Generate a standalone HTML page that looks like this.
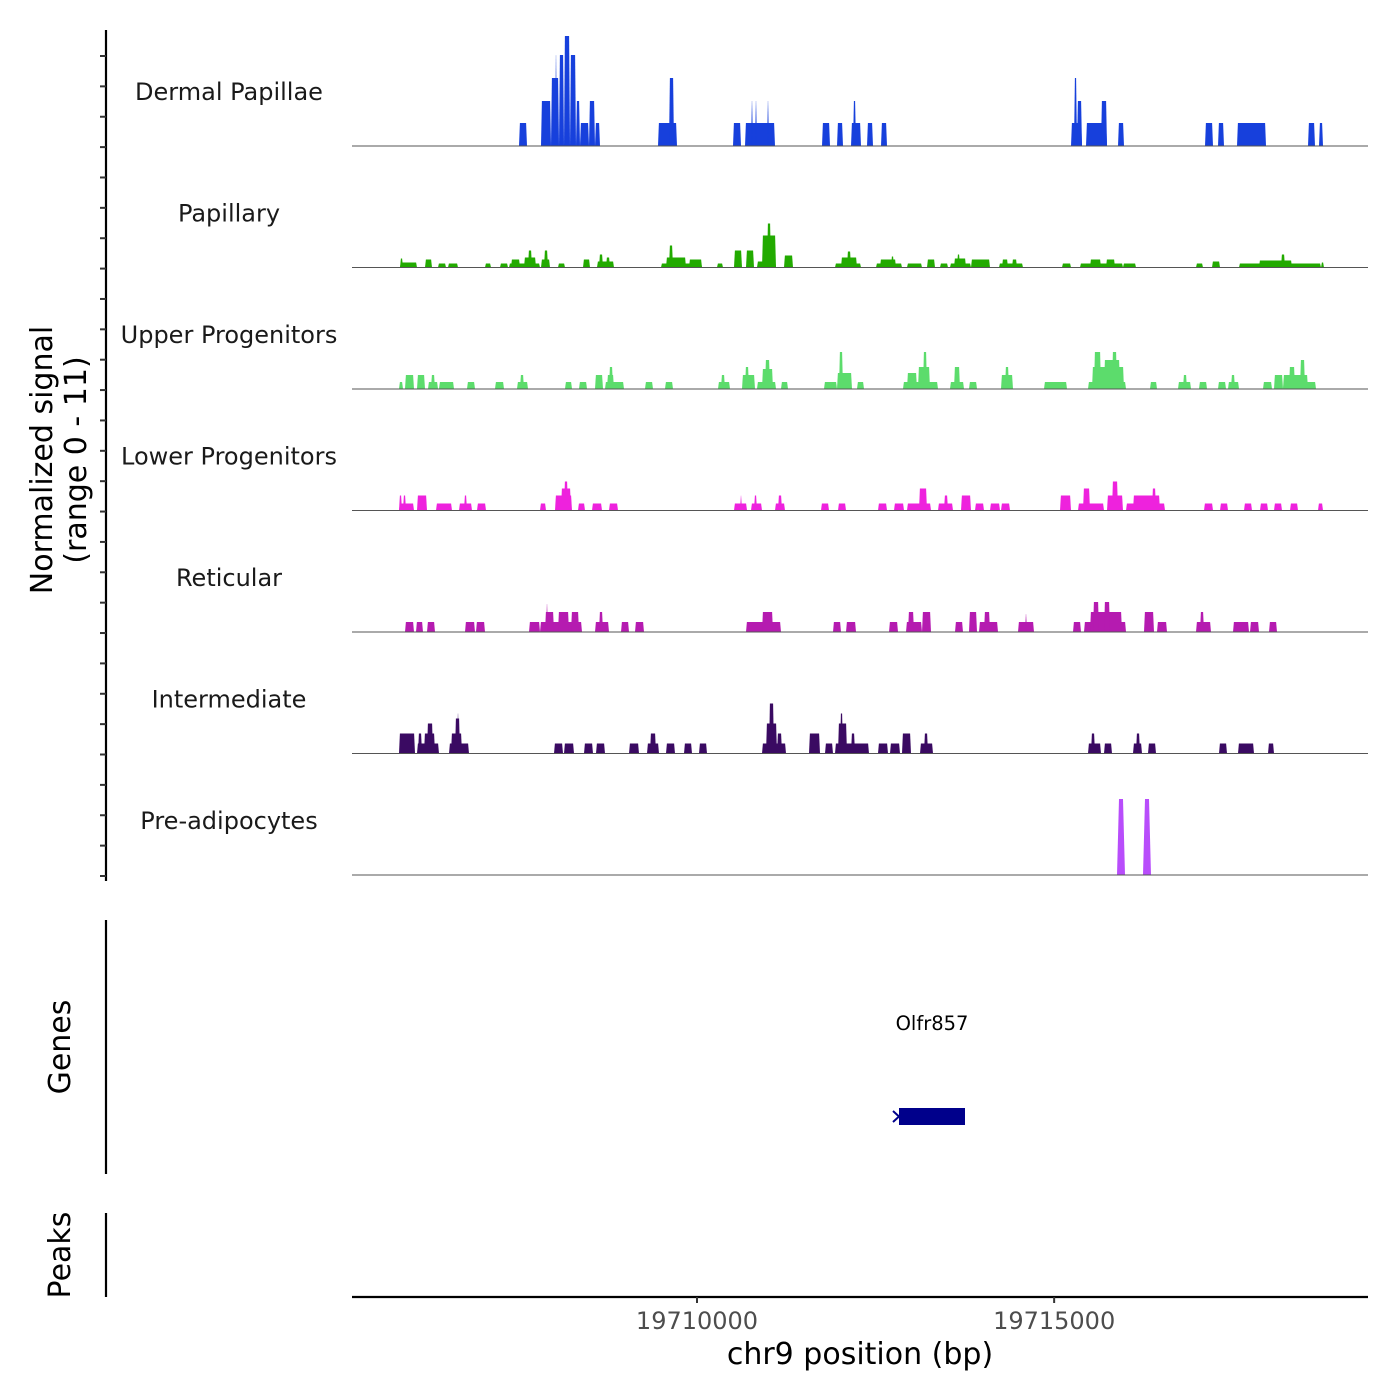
<!DOCTYPE html>
<html><head><meta charset="utf-8">
<style>
html,body{margin:0;padding:0;background:#fff;}
svg{display:block;font-family:"DejaVu Sans","Liberation Sans",sans-serif;}
</style></head>
<body>
<svg id="chart" width="1400" height="1400" viewBox="0 0 1400 1400" xmlns="http://www.w3.org/2000/svg">
<g id="tracks"></g>
<g id="axes"></g>
</svg>
<script>
// ---- data ----
const regionStart = 19705170;
const regionEnd = 19719394;
const signalMax = 11;
const trackNames = ["Dermal Papillae","Papillary","Upper Progenitors","Lower Progenitors","Reticular","Intermediate","Pre-adipocytes"];
const trackColors = ["#1740dc","#22aa00","#5cdc6c","#ee22dd","#b51bb0","#3a0a62","#b84dfb"];
const xTicks = [19710000, 19715000];
const xTickLabels = ["19710000","19715000"];
const geneName = "Olfr857";
const geneStartOffset = 7658;
const geneEndOffset = 8582;
// segments: [startOffsetBp, endOffsetBp, signal]
const dermalPapillae = [
[2338,2450,2.3],[2646,2786,4.5],[2786,2898,6.8],[2842,2870,9.1],[2898,2968,9.1],[2968,3052,11],[3052,3136,9.1],[3136,3192,4.5],
[3192,3318,2.3],[3318,3402,4.5],[3402,3472,2.3],[4284,4550,2.3],[4438,4508,6.8],[5334,5446,2.3],[5502,5922,2.3],[5586,5614,4.5],
[5642,5670,4.5],[5810,5838,4.5],[6580,6692,2.3],[6790,6874,2.3],[6986,7126,2.3],[7014,7056,4.5],[7210,7294,2.3],[7406,7490,2.3],
[10066,10220,2.3],[10108,10150,6.8],[10150,10220,4.5],[10276,10570,2.3],[10486,10570,4.5],[10724,10808,2.3],
[11942,12054,2.3],[12124,12208,2.3],[12390,12796,2.3],[13384,13482,2.3],[13538,13594,2.3]];
const papillary = [
[672,910,0.5],[672,714,0.9],[1022,1120,0.8],[1204,1316,0.4],[1344,1484,0.4],[1862,1946,0.4],[2072,2184,0.4],[2198,2632,0.4],
[2226,2352,0.8],[2408,2576,1.0],[2464,2520,1.7],[2646,2772,0.8],[2688,2744,1.7],[2884,2982,0.4],[3234,3332,0.8],[3430,3668,0.6],
[3458,3514,1.3],[3556,3612,1.0],[4326,4900,0.4],[4396,4676,1.0],[4438,4494,2.2],[4718,4900,0.8],[5110,5194,0.4],[5348,5460,1.7],
[5516,5628,1.7],[5670,5936,0.6],[5740,5936,3.2],[5810,5866,4.4],[6048,6174,1.2],[6762,7126,0.4],[6846,7070,1.0],[6930,6986,1.6],
[7336,7700,0.4],[7392,7616,0.8],[7546,7588,1.1],[7770,7980,0.4],[8050,8162,0.8],[8232,8344,0.4],[8372,8666,0.4],[8428,8596,0.9],
[8470,8512,1.3],[8666,8932,0.8],[9058,9394,0.4],[9100,9184,0.8],[9240,9310,0.8],[9940,10066,0.4],[10192,10794,0.4],[10332,10486,0.8],
[10556,10682,0.8],[10794,10976,0.4],[11816,11914,0.4],[12040,12152,0.6],[12418,13566,0.4],[12698,13160,0.7],[13006,13062,1.3],[13566,13608,0.5]];
const upperProgenitors = [
[658,714,0.7],[742,868,1.4],[910,1022,1.4],[1064,1204,0.7],[1106,1162,1.4],[1218,1428,0.7],[1610,1722,0.7],[2002,2128,0.7],
[2310,2464,0.7],[2352,2408,1.4],[2982,3080,0.7],[3178,3290,0.7],[3402,3514,1.4],[3542,3808,0.7],[3570,3668,1.4],[3598,3654,2.2],
[4102,4214,0.7],[4382,4494,0.7],[5124,5292,0.7],[5166,5222,1.4],[5460,5642,1.4],[5502,5558,2.2],[5670,5936,0.7],[5740,5894,2.0],
[5782,5852,2.9],[6006,6104,0.7],[6608,6790,0.7],[6790,7000,1.6],[6818,6874,3.7],[7070,7168,0.7],[7714,8204,0.7],[7770,7910,1.6],
[7924,8092,2.2],[7994,8050,3.7],[8372,8568,0.7],[8428,8512,2.2],[8638,8750,0.7],[9086,9254,1.4],[9142,9198,2.2],[9688,10010,0.7],
[10304,10836,0.7],[10360,10808,2.2],[10388,10486,3.7],[10528,10752,2.9],[10640,10710,3.7],[11172,11270,0.7],[11564,11746,0.7],
[11634,11690,1.4],[11858,11970,0.7],[12124,12236,0.7],[12264,12418,0.7],[12306,12362,1.4],[12754,12880,0.7],[12908,13034,1.4],
[13034,13496,0.7],[13034,13384,1.4],[13118,13202,2.2],[13272,13342,2.9]];
const lowerProgenitors = [
[658,868,0.7],[658,700,1.5],[714,756,1.5],[910,1050,1.5],[1176,1400,0.7],[1498,1680,0.7],[1568,1610,1.5],[1750,1876,0.7],
[2632,2716,0.7],[2842,3080,1.5],[2926,3066,2.2],[2968,3024,2.9],[3164,3262,0.7],[3360,3500,0.7],[3598,3724,0.7],[5348,5530,0.7],
[5432,5460,1.5],[5586,5740,0.7],[5628,5670,1.5],[5922,6062,0.7],[5964,6020,1.5],[6566,6678,0.7],[6804,6916,0.7],[7364,7490,0.7],
[7588,7728,0.7],[7770,8106,0.7],[7938,8050,2.2],[8204,8414,0.7],[8288,8344,1.5],[8526,8666,1.5],[8722,8848,0.7],[8932,9072,0.7],
[9086,9212,0.7],[9912,10066,1.5],[10164,10528,0.7],[10234,10332,2.2],[10570,10794,1.5],[10640,10724,2.9],[10836,11382,0.7],
[10934,11312,1.5],[11200,11256,2.2],[11928,12054,0.7],[12152,12264,0.7],[12488,12600,0.7],[12712,12824,0.7],[12908,13020,0.7],
[13132,13244,0.7],[13524,13594,0.7]];
const reticular = [
[742,868,1],[896,994,1],[1050,1162,1],[1582,1722,1],[1736,1862,1],[2478,2632,1],[2632,3220,1],[2702,2828,2],[2716,2744,2.8],
[2884,3038,2],[3066,3178,2],[3402,3598,1],[3458,3514,2],[3766,3878,1],[3962,4088,1],[5516,6006,1],[5740,5894,2],[6734,6846,1],
[6916,7056,1],[7518,7644,1],[7756,7980,1],[7784,7868,2],[7980,8106,2],[8442,8554,1],[8638,8750,2],[8778,9044,1],[8848,8932,2],
[9324,9548,1],[9422,9450,1.8],[10094,10206,1],[10248,10836,1],[10332,10780,2],[10374,10458,3],[10528,10612,3],[11088,11228,2],
[11270,11410,1],[11816,12026,1],[11872,11928,2],[12334,12558,1],[12572,12698,1],[12838,12950,1]];
const intermediate = [
[658,882,2],[910,1218,1],[924,980,2],[1008,1162,2],[1050,1134,3],[1358,1638,1],[1386,1540,2],[1442,1512,3.5],[1470,1498,4],
[2828,2954,1],[2968,3108,1],[3248,3374,1],[3416,3542,1],[3878,4018,1],[4130,4298,1],[4172,4256,2],[4396,4522,1],[4648,4760,1],
[4858,4970,1],[5740,6076,1],[5796,5950,3],[5838,5908,5],[5950,6020,2],[6398,6552,2],[6622,6734,1],[6762,7238,1],[6804,6930,3],
[6832,6874,4],[6986,7042,2],[7364,7504,1],[7532,7672,1],[7700,7826,2],[7952,8134,1],[8008,8064,2],[10304,10486,1],[10346,10402,2],
[10528,10640,1],[10934,11060,1],[10976,11032,2],[11144,11256,1],[12138,12250,1],[12404,12628,1],[12824,12908,1]];
const preAdipocytes = [[10710,10822,7.6],[11074,11186,7.6]];
const trackData = [dermalPapillae, papillary, upperProgenitors, lowerProgenitors, reticular, intermediate, preAdipocytes];

// ---- layout ----
const NS = "http://www.w3.org/2000/svg";
const plotL = 352, plotR = 1368;
const firstBase = 146, trackStep = 121.5, pxPerSignal = 110 / signalMax;
function xScale(bp){ return plotL + (bp - regionStart) / (regionEnd - regionStart) * (plotR - plotL); }
function yScale(v, base){ return base - v * pxPerSignal; }
function mk(tag, attrs, parent){ const e = document.createElementNS(NS, tag); for (const k in attrs) e.setAttribute(k, attrs[k]); parent.appendChild(e); return e; }

const tracks = document.getElementById('tracks');
const axes = document.getElementById('axes');

trackData.forEach((segs, i) => {
  const base = firstBase + i * trackStep;
  const g = mk('g', {}, tracks);
  
  
  const ramp = i === 6 ? 2 : 0.9;
  segs.forEach(s => {
    const x1 = xScale(regionStart + s[0]), x2 = xScale(regionStart + s[1]);
    const y = yScale(s[2], base);
    const r = Math.min(ramp, (x2 - x1) / 2.2);
    const p = mk('polygon', {points: `${x1},${base} ${x1+r},${y} ${x2-r},${y} ${x2},${base}`, fill: trackColors[i]}, g);
    
    
  });
  const bl = mk('line', {x1: plotL, x2: plotR, y1: base, y2: base, stroke: '#555', 'stroke-width': 1.1}, g);
  
  
  const t = mk('text', {x: 229, y: base - 46, 'text-anchor': 'middle', 'font-size': 24, fill: '#1a1a1a'}, g);
  t.textContent = trackNames[i];
  
  
});

// left coverage axis
const la = mk('line', {x1: 106, x2: 106, y1: 30, y2: 881, stroke: '#000', 'stroke-width': 2.2}, axes);


for (let k = 0; k < 28; k++) {
  const ty = 56 + k * 30.37;
  const tk = mk('line', {x1: 100, x2: 106, y1: ty, y2: ty, stroke: '#333', 'stroke-width': 2}, axes);
  
  
}
const yt = mk('text', {transform: 'translate(52,460) rotate(-90)', 'text-anchor': 'middle', 'font-size': 30, fill: '#000'}, axes);


const ts1 = mk('tspan', {x: 0, dy: 0}, yt); ts1.textContent = 'Normalized signal';
const ts2 = mk('tspan', {x: 0, dy: 34}, yt); ts2.textContent = '(range 0 - 11)';

// genes panel
const ga = mk('line', {x1: 106, x2: 106, y1: 920, y2: 1174, stroke: '#000', 'stroke-width': 2.2}, axes);


const gt = mk('text', {transform: 'translate(70,1047) rotate(-90)', 'text-anchor': 'middle', 'font-size': 30, fill: '#000'}, axes);
gt.textContent = 'Genes';


const gx1 = xScale(regionStart + geneStartOffset), gx2 = xScale(regionStart + geneEndOffset);
const gr = mk('rect', {x: gx1, y: 1108, width: gx2 - gx1, height: 17, fill: '#00008b'}, axes);


const garr = mk('path', {d: `M${gx1-6},${1111} L${gx1},${1116.5} L${gx1-6},${1122}`, stroke: '#00008b', 'stroke-width': 2, fill: 'none'}, axes);


const gl = mk('text', {x: (gx1 + gx2) / 2, y: 1030, 'text-anchor': 'middle', 'font-size': 19.5, fill: '#000'}, axes);
gl.textContent = geneName;



// peaks panel
const pa = mk('line', {x1: 106, x2: 106, y1: 1213, y2: 1297, stroke: '#000', 'stroke-width': 2.2}, axes);


const pt = mk('text', {transform: 'translate(70,1255) rotate(-90)', 'text-anchor': 'middle', 'font-size': 30, fill: '#000'}, axes);
pt.textContent = 'Peaks';



// x axis
const xa = mk('line', {x1: plotL, x2: plotR, y1: 1297, y2: 1297, stroke: '#000', 'stroke-width': 2.2}, axes);


xTicks.forEach((v, k) => {
  const x = xScale(v);
  const tk = mk('line', {x1: x, x2: x, y1: 1297, y2: 1303, stroke: '#333', 'stroke-width': 2}, axes);
  
  
  const tl = mk('text', {x: x, y: 1329, 'text-anchor': 'middle', 'font-size': 24, fill: '#4d4d4d'}, axes);
  tl.textContent = xTickLabels[k];
  
  
});
const xt = mk('text', {x: 860, y: 1364, 'text-anchor': 'middle', 'font-size': 30, fill: '#000'}, axes);
xt.textContent = 'chr9 position (bp)';


</script>
</body></html>
